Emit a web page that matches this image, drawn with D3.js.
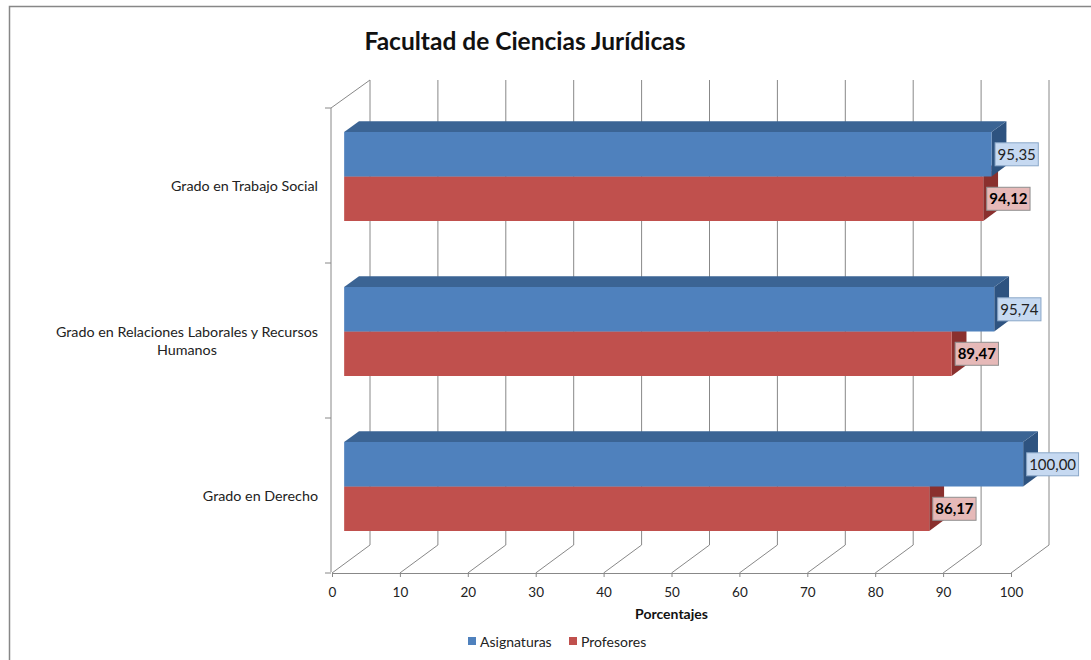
<!DOCTYPE html>
<html>
<head>
<meta charset="utf-8">
<script src="https://cdn.jsdelivr.net/npm/d3@7"></script>
<style>
  body { margin: 0; background: #fff; }
  svg { display: block; font-family: Lato, "Open Sans", sans-serif; }
</style>
</head>
<body>
<div id="chart"></div>
<script>
// chart values
const categories = ["Grado en Trabajo Social", "Grado en Relaciones Laborales y Recursos Humanos", "Grado en Derecho"];
const categoryLines = [["Grado en Trabajo Social"], ["Grado en Relaciones Laborales y Recursos", "Humanos"], ["Grado en Derecho"]];
const seriesNames = ["Asignaturas", "Profesores"];
const asignaturas = [95.35, 95.74, 100.00];
const profesores = [94.12, 89.47, 86.17];
const xTicks = [0, 10, 20, 30, 40, 50, 60, 70, 80, 90, 100];

const width = 1091, height = 660;

// 3d look: depth offset of the back wall
const DX = 38, DY = 28;
const barZ = [0.32, 0.71];

const colors = {
    Asignaturas: { front: "#4f81bd", top: "#3b6494", side: "#2e5380", label: "#c6d9f1", labelStroke: "#8aa7c8" },
    Profesores: { front: "#c0504d", top: "#963c3a", side: "#8a302e", label: "#e6b9b8", labelStroke: "#8f8f8f" }
};

const svg = d3.select("#chart")
    .append("svg")
    .attr("width", width)
    .attr("height", height);

// chart border
svg.append("rect")
    .attr("x", 9.5)
    .attr("y", 6.5)
    .attr("width", 1100)
    .attr("height", 700)
    .attr("fill", "#fff")
    .attr("stroke", "#878787")
    .attr("stroke-width", 1.5);

const x = d3.scaleLinear()
    .domain([0, 100])
    .range([332, 1011]);

const y = d3.scaleBand()
    .domain(categories)
    .range([108, 573])
    .paddingInner(0.426)
    .paddingOuter(0.213);

const ySub = d3.scaleBand()
    .domain(seriesNames)
    .range([0, y.bandwidth()]);

// project (value, front y, depth) to screen
const P = (v, fy, z) => [x(v) + z * DX, fy - z * DY];
const poly = pts => "M" + pts.map(p => p.join(",")).join("L") + "Z";

const gridColor = "#888";

// back wall gridlines and floor lines
const grid = svg.append("g")
    .attr("stroke", gridColor)
    .attr("stroke-width", 1)
    .attr("fill", "none");

grid.selectAll("line.back")
    .data(xTicks)
    .join("line")
    .attr("class", "back")
    .attr("x1", d => P(d, 108, 1)[0])
    .attr("x2", d => P(d, 573, 1)[0])
    .attr("y1", d => P(d, 108, 1)[1])
    .attr("y2", d => P(d, 573, 1)[1]);

grid.selectAll("line.floor")
    .data(xTicks)
    .join("line")
    .attr("class", "floor")
    .attr("x1", d => P(d, 573, 0)[0])
    .attr("x2", d => P(d, 573, 1)[0])
    .attr("y1", d => P(d, 573, 0)[1])
    .attr("y2", d => P(d, 573, 1)[1]);

// left wall
grid.append("path")
    .attr("d", "M" + P(0, 573, 0).map(v => v - 1).join(",") + "L" + [x(0) - 1, 108].join(",") + "L" + P(0, 108, 1).join(","));

// category ticks on the left wall
const catEdges = [108].concat(categories.map(c => y(c) + y.bandwidth() + y.step() * 0.213));
grid.selectAll("line.ctick")
    .data(catEdges)
    .join("line")
    .attr("class", "ctick")
    .attr("x1", x(0) - 7)
    .attr("x2", x(0) - 1)
    .attr("y1", d => d)
    .attr("y2", d => d);

// front axis line and ticks
const xAxis = g => g
    .attr("transform", `translate(0,573)`)
    .call(d3.axisBottom(x).tickValues(xTicks).tickSize(4).tickSizeOuter(0))
    .call(g => g.select(".domain").attr("stroke", gridColor))
    .call(g => g.selectAll(".tick line").attr("stroke", gridColor))
    .call(g => g.selectAll(".tick text")
        .attr("y", 12)
        .attr("dy", "0.9em")
        .attr("fill", "#222")
        .attr("font-size", 13.5)
        .attr("font-family", "Lato, sans-serif"));

svg.append("g").call(xAxis);

// bars
const bars = [];
categories.forEach((c, i) => {
    [["Asignaturas", asignaturas[i]], ["Profesores", profesores[i]]].forEach(([s, v]) => {
        const y0 = y(c) + ySub(s);
        const y1 = y0 + ySub.bandwidth();
        bars.push({ cat: c, s, v, y0, y1, i });
    });
});
// paint lower bars first so upper ones sit on them
bars.sort((a, b) => b.y0 - a.y0);

const [z0, z1] = barZ;
const barG = svg.selectAll("g.bar")
    .data(bars)
    .join("g")
    .attr("class", "bar");

barG.append("path")
    .attr("fill", d => colors[d.s].side)
    .attr("d", d => poly([P(d.v, d.y0, z0), P(d.v, d.y0, z1), P(d.v, d.y1, z1), P(d.v, d.y1, z0)]));

barG.append("path")
    .attr("fill", d => colors[d.s].top)
    .attr("d", d => poly([P(0, d.y0, z0), P(d.v, d.y0, z0), P(d.v, d.y0, z1), P(0, d.y0, z1)]));

barG.append("path")
    .attr("fill", d => colors[d.s].front)
    .attr("d", d => poly([P(0, d.y0, z0), P(d.v, d.y0, z0), P(d.v, d.y1, z0), P(0, d.y1, z0)]));

// data labels
const fmt = v => v.toFixed(2).replace(".", ",");
const labelG = svg.selectAll("g.label")
    .data(bars)
    .join("g")
    .attr("class", "label")
    .attr("transform", d => {
        const p = P(d.v, (d.y0 + d.y1) / 2, z0);
        return `translate(${p[0] + 3},${p[1]})`;
    });

labelG.append("rect");
labelG.append("text")
    .attr("x", 3)
    .attr("dy", "0.36em")
    .attr("font-size", 15)
    .attr("font-weight", d => d.s === "Profesores" ? "bold" : "normal")
    .attr("fill", d => d.s === "Profesores" ? "#000" : "#222")
    .text(d => fmt(d.v));

labelG.each(function (d) {
    const g = d3.select(this);
    const w = g.select("text").node().getComputedTextLength();
    g.select("rect")
        .attr("x", 0.5)
        .attr("y", -11.5)
        .attr("width", w + 5)
        .attr("height", 23)
        .attr("fill", colors[d.s].label)
        .attr("stroke", colors[d.s].labelStroke);
});

// category labels
svg.append("g")
    .selectAll("text")
    .data(categories)
    .join("text")
    .attr("font-size", 14.3)
    .attr("fill", "#222")
    .each(function (c, i) {
        const lines = categoryLines[i];
        const t = d3.select(this);
        const cy = y(c) + y.bandwidth() / 2;
        lines.forEach((l, k) => {
            t.append("tspan")
                .attr("y", cy + 5 + (k - (lines.length - 1) / 2) * 18)
                .text(l);
        });
        // right align the block, center lines in it
        const widths = [];
        t.selectAll("tspan").each(function () { widths.push(this.getComputedTextLength()); });
        const maxW = d3.max(widths);
        t.selectAll("tspan").attr("x", (_, k) => 318 - maxW + (maxW - widths[k]) / 2);
    });

// title
svg.append("text")
    .attr("x", 525)
    .attr("y", 50)
    .attr("text-anchor", "middle")
    .attr("font-size", 24.5)
    .attr("font-weight", "bold")
    .attr("fill", "#111")
    .text("Facultad de Ciencias Jurídicas");

// axis title
svg.append("text")
    .attr("x", (x(0) + x(100)) / 2)
    .attr("y", 619)
    .attr("text-anchor", "middle")
    .attr("font-size", 14)
    .attr("font-weight", "bold")
    .attr("fill", "#111")
    .text("Porcentajes");

// legend
const legend = svg.append("g")
    .selectAll("g")
    .data(seriesNames)
    .join("g")
    .attr("transform", (d, i) => `translate(${[468, 569][i]},637)`);

legend.append("rect")
    .attr("width", 8)
    .attr("height", 8)
    .attr("fill", d => colors[d].front);

legend.append("text")
    .attr("x", 12)
    .attr("y", 9.5)
    .attr("font-size", 14)
    .attr("fill", "#222")
    .text(d => d);
</script>
</body>
</html>
